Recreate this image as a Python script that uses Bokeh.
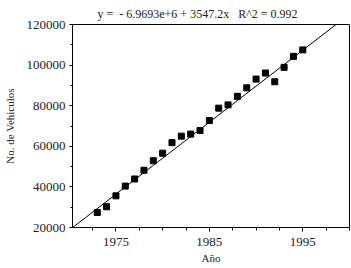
from bokeh.plotting import figure
from bokeh.models import Range1d, FixedTicker, Slope, Title, ColumnDataSource, BasicTickFormatter
from bokeh.embed import file_html
from bokeh.resources import INLINE

# Data
years = [1973, 1974, 1975, 1976, 1977, 1978, 1979, 1980, 1981, 1982, 1983, 1984,
         1985, 1986, 1987, 1988, 1989, 1990, 1991, 1992, 1993, 1994, 1995]
vehicles = [27400, 30200, 35600, 40400, 43900, 48200, 52900, 56600, 61800, 65000,
            66000, 67800, 72700, 78800, 80400, 84600, 88800, 93100, 96100, 91800,
            98900, 104300, 107500]
fit_intercept = -6.9693e6
fit_slope = 3547.2
r_squared = 0.992
x_major_ticks = [1975, 1985, 1995]
x_minor_ticks = [1970, 1972.5, 1975, 1977.5, 1980, 1982.5, 1985, 1987.5, 1990, 1992.5, 1995, 1997.5, 2000]
y_major_ticks = [20000, 40000, 60000, 80000, 100000, 120000]
y_minor_ticks = [20000, 30000, 40000, 50000, 60000, 70000, 80000, 90000, 100000, 110000, 120000]

FONT = "Liberation Serif"
NB = "\u00a0"

p = figure(width=351, height=268, output_backend="svg", toolbar_location=None,
           x_range=Range1d(1970.35, 2000), y_range=Range1d(20000, 120000),
           min_border_left=70, min_border_right=2, min_border_top=6, min_border_bottom=41)
p.background_fill_color = "white"
p.border_fill_color = "white"
p.outline_line_color = "black"
p.outline_line_width = 1
p.xgrid.visible = False
p.ygrid.visible = False

src = ColumnDataSource(dict(x=years, y=vehicles))
p.scatter("x", "y", source=src, marker="square", size=6, color="black")

p.add_layout(Slope(gradient=fit_slope, y_intercept=fit_intercept,
                   line_color="black", line_width=1))

for ax in (p.xaxis[0], p.yaxis[0]):
    ax.axis_line_color = "black"
    ax.major_tick_line_color = "black"
    ax.minor_tick_line_color = "black"
    ax.major_label_text_font = FONT
    ax.major_label_text_font_size = "13px"
    ax.major_label_text_color = "#222222"
    ax.axis_label_text_font = FONT
    ax.axis_label_text_font_size = "11px"
    ax.axis_label_text_font_style = "normal"
    ax.axis_label_text_color = "#222222"
    ax.major_tick_in = 0
    ax.minor_tick_in = 0

p.xaxis.ticker = FixedTicker(ticks=x_major_ticks, minor_ticks=x_minor_ticks)
p.xaxis.major_tick_out = 4
p.xaxis.minor_tick_out = 3
p.xaxis.major_label_standoff = 6
p.xaxis.axis_label = "Año"
p.xaxis.axis_label_standoff = 3

p.yaxis.ticker = FixedTicker(ticks=y_major_ticks, minor_ticks=y_minor_ticks)
p.yaxis.formatter = BasicTickFormatter(use_scientific=False)
p.yaxis.major_tick_out = 3
p.yaxis.minor_tick_out = 2
p.yaxis.major_label_standoff = 4
p.yaxis.axis_label = "No. de Vehiculos"
p.yaxis.axis_label_standoff = 8

title_text = ("y =" + NB + NB + "- %.4fe+6 + %.1fx" + NB + NB + NB + "R^2 = %.3f") % (
    abs(fit_intercept) / 1e6, fit_slope, r_squared)
p.add_layout(Title(text=title_text, align="left", offset=25, text_font=FONT,
                   text_font_size="12px", text_font_style="normal",
                   text_color="#222222", standoff=8), "above")

open("out.html", "w").write(file_html(p, INLINE))
